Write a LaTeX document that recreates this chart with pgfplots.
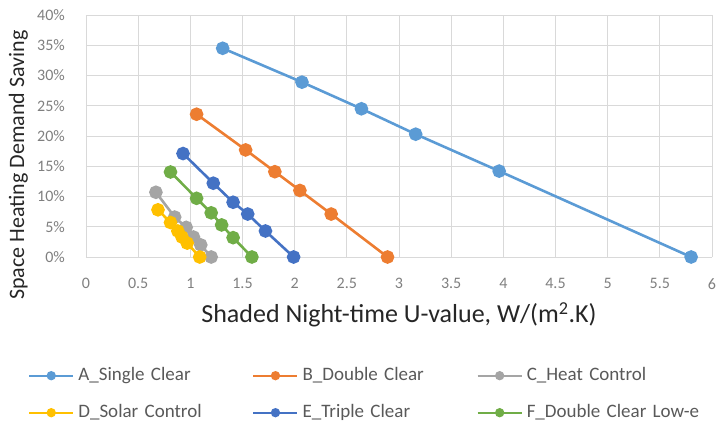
\documentclass[border=0pt]{standalone}
\usepackage{fontspec}
\setmainfont{Carlito}
\usepackage{pgfplots}
\pgfplotsset{compat=1.18}
\definecolor{cA}{HTML}{5B9BD5}
\definecolor{cB}{HTML}{ED7D31}
\definecolor{cC}{HTML}{A5A5A5}
\definecolor{cD}{HTML}{FFC000}
\definecolor{cE}{HTML}{4472C4}
\definecolor{cF}{HTML}{70AD47}
\definecolor{gridc}{HTML}{D9D9D9}
\definecolor{tickc}{HTML}{7F7F7F}
\definecolor{txtc}{HTML}{595959}
\definecolor{titc}{HTML}{262626}
\begin{document}
\begin{tikzpicture}
\useasboundingbox (-86bp,-169bp) rectangle (631bp,257bp);
\begin{axis}[
  scale only axis, width=626bp, height=242bp,
  xmin=0, xmax=6, ymin=0, ymax=40,
  axis x line*=bottom, axis y line*=left,
  x axis line style={draw=gridc, line width=1bp},
  y axis line style={draw=none},
  tick style={draw=none},
  grid=major, grid style={draw=gridc, line width=0.9bp},
  xtick={0,0.5,1,1.5,2,2.5,3,3.5,4,4.5,5,5.5,6},
  xticklabels={0,0.5,1,1.5,2,2.5,3,3.5,4,4.5,5,5.5,6},
  ytick={0,5,10,15,20,25,30,35,40},
  yticklabels={0\%,5\%,10\%,15\%,20\%,25\%,30\%,35\%,40\%},
  /pgf/number format/assume math mode=true,
  ticklabel style={font=\fontsize{16bp}{19bp}\selectfont, text=tickc},
  xticklabel style={inner sep=0pt, anchor=north, yshift=-21bp},
  yticklabel style={inner sep=0pt, anchor=east, xshift=-21bp},
  xlabel={Shaded Night-time U-value, W/(m\textsuperscript{2}.K)},
  ylabel={Space Heating Demand Saving},
  every axis x label/.style={at={(axis description cs:0.5,-0.2727)}, anchor=base, font=\fontsize{26bp}{31bp}\selectfont, text=titc},
  every axis y label/.style={at={(axis description cs:-0.099,0.38)}, anchor=base, rotate=90, font=\fontsize{22bp}{27bp}\selectfont, text=titc},
  every axis plot/.append style={line width=2.6bp, mark=*, mark size=5.5bp},
  legend columns=3,
  legend cell align=left,
  legend style={at={(axis description cs:-0.0927,-0.4545)}, anchor=north west,
    draw=none, fill=none, inner sep=0pt,
    font=\fontsize{19bp}{23bp}\selectfont, text=txtc,
    row sep=20bp,
    nodes={inner sep=0pt, text width=174bp, align=left, text height=13bp, text depth=4bp},
    /tikz/every odd column/.append style={column sep=4bp}},
  legend image code/.code={\draw[mark repeat=2,mark phase=2,#1,line width=2.2bp,mark size=3.5bp] plot coordinates {(0bp,0bp) (22bp,0bp) (44bp,0bp)};},
]
\addplot[color=cA] coordinates {(1.31,34.5) (2.07,28.9) (2.64,24.5) (3.16,20.3) (3.96,14.2) (5.80,0)};
\addlegendentry{\mbox{A\_Single Clear}}
\addplot[color=cB] coordinates {(1.06,23.6) (1.53,17.7) (1.81,14.1) (2.05,11.0) (2.35,7.1) (2.89,0)};
\addlegendentry{\mbox{B\_Double Clear}}
\addplot[color=cC] coordinates {(0.67,10.7) (0.85,6.6) (0.96,4.9) (1.03,3.3) (1.10,2.0) (1.20,0)};
\addlegendentry{\mbox{C\_Heat Control}}
\addplot[color=cD] coordinates {(0.69,7.8) (0.81,5.7) (0.88,4.3) (0.92,3.3) (0.97,2.3) (1.09,0)};
\addlegendentry{\mbox{D\_Solar Control}}
\addplot[color=cE] coordinates {(0.93,17.1) (1.22,12.2) (1.41,9.05) (1.55,7.1) (1.72,4.3) (1.99,0)};
\addlegendentry{\mbox{E\_Triple Clear}}
\addplot[color=cF] coordinates {(0.81,14.05) (1.06,9.7) (1.20,7.3) (1.30,5.3) (1.41,3.2) (1.59,0)};
\addlegendentry{\mbox{F\_Double Clear Low-e}}
\end{axis}
\end{tikzpicture}
\end{document}
